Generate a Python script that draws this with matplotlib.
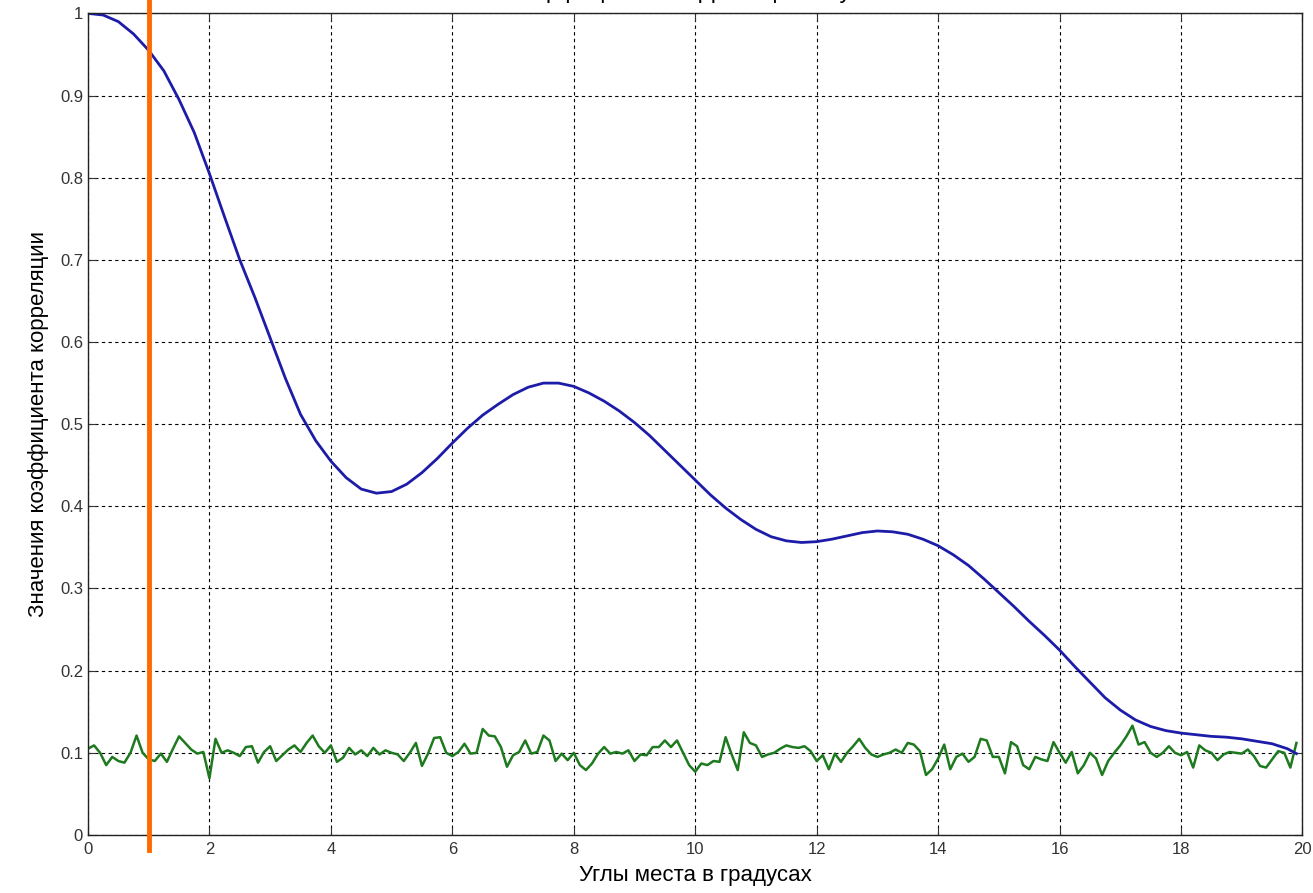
import numpy as np
import matplotlib.pyplot as plt

plt.rcParams['font.family'] = ['Liberation Sans', 'DejaVu Sans']

# corr. coefficient of the signal (blue), read every 0.25 degree
blue_x = [0, 0.25, 0.5, 0.75, 1, 1.25, 1.5, 1.75, 2, 2.25, 2.5, 2.75, 3, 3.25, 3.5, 3.75,
          4, 4.25, 4.5, 4.75, 5, 5.25, 5.5, 5.75, 6, 6.25, 6.5, 6.75, 7, 7.25, 7.5, 7.75,
          8, 8.25, 8.5, 8.75, 9, 9.25, 9.5, 9.75, 10, 10.25, 10.5, 10.75, 11, 11.25, 11.5,
          11.75, 12, 12.25, 12.5, 12.75, 13, 13.25, 13.5, 13.75, 14, 14.25, 14.5, 14.75,
          15, 15.25, 15.5, 15.75, 16, 16.25, 16.5, 16.75, 17, 17.25, 17.5, 17.75, 18,
          18.25, 18.5, 18.75, 19, 19.25, 19.5, 19.75, 19.9]
blue_y = [1.0, 0.998, 0.99, 0.975, 0.955, 0.93, 0.895, 0.855, 0.805, 0.752, 0.70, 0.654,
          0.605, 0.556, 0.512, 0.48, 0.455, 0.435, 0.421, 0.416, 0.418, 0.427, 0.441, 0.458,
          0.477, 0.495, 0.511, 0.524, 0.536, 0.545, 0.55, 0.55, 0.546, 0.538, 0.528, 0.516,
          0.502, 0.486, 0.468, 0.45, 0.432, 0.414, 0.398, 0.384, 0.372, 0.363, 0.358,
          0.356, 0.357, 0.36, 0.364, 0.368, 0.37, 0.369, 0.366, 0.36, 0.352, 0.341, 0.328,
          0.312, 0.295, 0.278, 0.26, 0.243, 0.225, 0.205, 0.186, 0.167, 0.152, 0.14, 0.132,
          0.127, 0.124, 0.122, 0.12, 0.119, 0.117, 0.114, 0.111, 0.105, 0.099]

# noise level (green), one value every 0.1 degree
green_y = [
    0.105, 0.109, 0.100, 0.085, 0.095, 0.090, 0.088, 0.100, 0.121, 0.100,
    0.092, 0.090, 0.099, 0.089, 0.105, 0.120, 0.112, 0.104, 0.099, 0.101,
    0.069, 0.117, 0.100, 0.103, 0.100, 0.096, 0.107, 0.108, 0.088, 0.101,
    0.108, 0.090, 0.097, 0.104, 0.109, 0.101, 0.112, 0.121, 0.108, 0.100,
    0.109, 0.089, 0.094, 0.106, 0.098, 0.103, 0.096, 0.106, 0.098, 0.103,
    0.100, 0.098, 0.090, 0.100, 0.112, 0.084, 0.099, 0.118, 0.119, 0.100,
    0.096, 0.101, 0.111, 0.099, 0.100, 0.129, 0.121, 0.120, 0.107, 0.083,
    0.097, 0.101, 0.115, 0.099, 0.101, 0.121, 0.115, 0.090, 0.099, 0.091,
    0.100, 0.085, 0.079, 0.087, 0.099, 0.107, 0.099, 0.101, 0.099, 0.103,
    0.090, 0.098, 0.097, 0.107, 0.107, 0.115, 0.107, 0.115, 0.100, 0.085,
    0.077, 0.087, 0.085, 0.090, 0.089, 0.119, 0.098, 0.079, 0.125, 0.112,
    0.109, 0.095, 0.098, 0.100, 0.105, 0.109, 0.107, 0.106, 0.108, 0.102,
    0.090, 0.097, 0.080, 0.099, 0.089, 0.100, 0.108, 0.117, 0.106, 0.098,
    0.095, 0.098, 0.100, 0.104, 0.100, 0.112, 0.110, 0.102, 0.073, 0.080,
    0.093, 0.110, 0.080, 0.095, 0.099, 0.089, 0.095, 0.117, 0.115, 0.095,
    0.095, 0.075, 0.113, 0.108, 0.085, 0.080, 0.095, 0.092, 0.090, 0.113,
    0.100, 0.088, 0.101, 0.075, 0.085, 0.100, 0.093, 0.073, 0.090, 0.100,
    0.109, 0.120, 0.133, 0.110, 0.113, 0.100, 0.095, 0.100, 0.108, 0.100,
    0.097, 0.101, 0.082, 0.109, 0.103, 0.100, 0.091, 0.098, 0.101, 0.100,
    0.099, 0.104, 0.096, 0.084, 0.082, 0.092, 0.102, 0.100, 0.082, 0.112,
]
green_x = np.arange(len(green_y)) * 0.1

marker_angle = 1.0  # orange vertical line

x_ticks = [0, 2, 4, 6, 8, 10, 12, 14, 16, 18, 20]
y_ticks = [0, 0.1, 0.2, 0.3, 0.4, 0.5, 0.6, 0.7, 0.8, 0.9, 1]
y_labels = ['0', '0.1', '0.2', '0.3', '0.4', '0.5', '0.6', '0.7', '0.8', '0.9', '1']

fig = plt.figure(figsize=(13.13, 8.93), dpi=100)
ax = fig.add_axes([0.067, 0.065, 0.925, 0.92])

ax.plot(green_x, green_y, color='#1e7a1e', lw=1.8)
ax.plot(blue_x, blue_y, color='#1c1ca8', lw=2.0)
ax.plot([marker_angle, marker_angle], [-0.018, 1.02], color='#ff6a00', lw=3.5,
        clip_on=False, zorder=5)

ax.set_xlim(0, 20)
ax.set_ylim(0, 1)
ax.set_xticks(x_ticks)
ax.set_yticks(y_ticks)
ax.set_yticklabels(y_labels)
ax.tick_params(direction='in', top=True, right=True, labelsize=12, colors='#333333',
               length=6, width=0.8)
ax.tick_params(axis='x', pad=5)
ax.grid(True, color='black', linestyle=(0, (3, 3)), linewidth=0.8)
for s in ax.spines.values():
    s.set_linewidth(1.0)
    s.set_color('#222222')

ax.set_xlabel('Углы места в градусах', fontsize=16, labelpad=6)
ax.set_ylabel('Значения коэффициента корреляции', fontsize=16, labelpad=8)

# title is cut off at the top of the picture, only descenders show
fig.text(0.5, 1.002, 'Зависимость коэффициента корреляции от угла места',
         ha='center', va='baseline', fontsize=17)

fig.savefig('out.png', dpi=100)
